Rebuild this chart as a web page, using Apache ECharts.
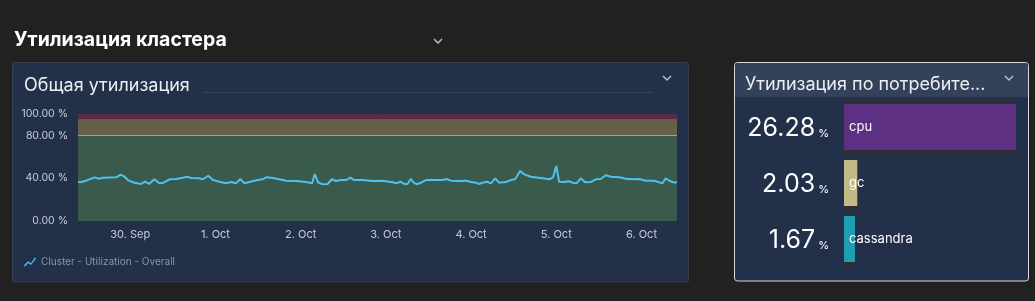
<!DOCTYPE html>
<html>
<head>
<meta charset="utf-8">
<script src="https://cdn.jsdelivr.net/npm/echarts@6/dist/echarts.min.js"></script>
<style>
  html, body { margin: 0; padding: 0; background: #212121; }
  #main { width: 1035px; height: 301px; }
</style>
</head>
<body>
<div id="main"></div>
<script>
// hours after 30 Sep 00:00 and cluster utilization (%)
const hours = [-14.7, -14.1, -12.4, -10.0, -8.8, -7.7, -3.9, -2.7, -1.6, -0.4, 1.2, 3.1, 4.2, 5.3, 6.8, 8.2,
  9.4, 11.1, 12.9, 14.8, 16.0, 17.2, 19.5, 20.5, 22.0, 23.3, 25.1, 27.0, 28.4, 29.8, 31.0, 32.2, 33.6, 35.9,
  37.3, 38.3, 40.2, 42.0, 43.9, 46.7, 49.5, 51.2, 52.0, 52.9, 54.2, 55.6, 56.8, 58.0, 59.4, 60.8, 62.0, 63.1,
  65.5, 68.3, 70.6, 72.0, 73.9, 75.0, 76.0, 77.2, 78.1, 79.0, 79.7, 80.7, 81.9, 83.3, 86.1, 88.0, 89.1, 90.3,
  92.7, 94.6, 96.0, 97.4, 98.3, 99.2, 100.5, 101.6, 102.8, 103.9, 105.8, 107.2, 108.4, 109.8, 111.0, 112.8,
  113.3, 116.1, 118.0, 119.1, 120.0, 120.8, 122.2, 123.6, 124.6, 125.7, 126.9, 128.1, 129.7, 131.1, 132.5,
  133.9, 135.4, 137.7, 139.6, 141.5, 143.3, 145.2, 147.5, 148.5, 149.9, 150.8, 152.0, 153.2, 154.0];
const utilization = [36.4, 36.2, 37.7, 40.8, 39.5, 40.5, 40.8, 43.3, 41.4, 37.7, 35.8, 34.6, 36.7, 34.6, 39.0, 35.2,
  35.8, 39.0, 39.3, 40.5, 41.4, 40.2, 39.9, 39.0, 42.3, 38.3, 36.7, 35.2, 36.4, 35.2, 39.3, 35.2, 36.4, 38.3,
  39.0, 40.8, 40.2, 39.0, 37.7, 37.4, 36.4, 35.2, 43.9, 36.2, 34.3, 34.6, 39.0, 37.4, 38.3, 38.3, 40.5, 38.3,
  38.3, 37.4, 37.7, 37.1, 36.2, 35.2, 36.7, 34.6, 34.6, 39.3, 36.4, 34.3, 35.8, 38.3, 38.3, 38.3, 39.3, 37.7,
  37.4, 37.7, 36.4, 35.8, 34.6, 35.8, 36.7, 35.2, 39.9, 35.8, 36.4, 38.3, 39.0, 46.7, 43.6, 41.4,
  40.8, 39.9, 39.0, 40.8, 51.4, 36.7, 36.4, 37.1, 35.8, 35.2, 39.9, 36.2, 36.4, 39.0, 39.3,
  42.7, 41.4, 40.8, 39.5, 39.0, 39.3, 37.7, 37.7, 36.7, 35.2, 39.9, 37.4, 35.8, 36.4];
const yTickLabels = [0, 40, 80, 100];
const thresholds = { warn: 80, crit: 95 };

// per-consumer utilization
const consumers = ['cpu', 'gc', 'cassandra'];
const shares = [26.28, 2.03, 1.67];
const consumerColors = ['#5e3083', '#c3ba88', '#1d9fb1'];

const months = ['Jan', 'Feb', 'Mar', 'Apr', 'May', 'Jun', 'Jul', 'Aug', 'Sep', 'Oct', 'Nov', 'Dec'];
const base = new Date(2023, 8, 30).getTime();
const H = 3600 * 1000;
const lineData = hours.map((h, i) => [base + h * H, utilization[i]]);

const FONT = 'Inter, "Noto Sans", sans-serif';
const chart = echarts.init(document.getElementById('main'));

const chevron = (x, y) => ({
  type: 'polyline',
  shape: { points: [[x - 4, y - 2], [x, y + 2], [x + 4, y - 2]] },
  style: { stroke: '#b9bec6', lineWidth: 1.5, fill: null },
  z: 1,
});

chart.setOption({
  backgroundColor: '#212121',
  textStyle: { fontFamily: FONT },
  animation: false,
  graphic: [
    { type: 'rect', shape: { x: 12.5, y: 62.5, width: 676, height: 219.5, r: 2 },
      style: { fill: '#22304a', stroke: '#373e4b', lineWidth: 1 }, z: 0 },
    { type: 'line', shape: { x1: 203, y1: 92.5, x2: 653, y2: 92.5 },
      style: { stroke: '#3a404c', lineWidth: 1 }, z: 1 },
    { type: 'rect', shape: { x: 734.5, y: 62.5, width: 294, height: 218.5, r: 3 },
      style: { fill: '#22304a', stroke: '#d4d7dc', lineWidth: 1 }, z: 0 },
    { type: 'rect', shape: { x: 735, y: 63, width: 293, height: 34, r: [3, 3, 0, 0] },
      style: { fill: '#33425a' }, z: 1 },
    chevron(438, 41),
    chevron(667, 78),
    chevron(1009, 78),
  ],
  title: [
    { text: 'Утилизация кластера', left: 14, top: 30, padding: 0,
      textStyle: { color: '#ffffff', fontSize: 19.5, fontWeight: 'bold', fontFamily: FONT } },
    { text: 'Общая утилизация', left: 24, top: 77, padding: 0,
      textStyle: { color: '#eceff2', fontSize: 18, fontWeight: 'normal', fontFamily: FONT } },
    { text: 'Утилизация по потребите...', left: 745, top: 76, padding: 0,
      textStyle: { color: '#eceff2', fontSize: 18, fontWeight: 'normal', fontFamily: FONT } },
  ],
  legend: {
    left: 24,
    top: 257,
    padding: 0,
    itemWidth: 12,
    itemHeight: 10,
    itemGap: 10,
    icon: 'path://M0,9L4,5L7,7L11,1L12,2.2L7,8.8L4,6.8L1,10.5Z',
    textStyle: { color: '#8b95a3', fontSize: 10 },
    data: ['Cluster - Utilization - Overall'],
  },
  grid: [
    { left: 78, right: 358, top: 114, bottom: 80 },
    { left: 844, right: 19, top: 99, bottom: 34 },
  ],
  xAxis: [
    {
      type: 'time',
      gridIndex: 0,
      min: base + hours[0] * H,
      max: base + hours[hours.length - 1] * H,
      minInterval: 24 * H,
      maxInterval: 24 * H,
      axisLine: { show: false },
      axisTick: { show: false },
      splitLine: { show: false },
      axisLabel: {
        color: '#c8ccd2',
        fontSize: 11,
        margin: 8,
        showMinLabel: false,
        showMaxLabel: false,
        formatter: (v) => {
          const d = new Date(v);
          return `${d.getDate()}. ${months[d.getMonth()]}`;
        },
      },
    },
    {
      type: 'value',
      gridIndex: 1,
      min: 0,
      max: 'dataMax',
      show: false,
    },
  ],
  yAxis: [
    {
      type: 'value',
      gridIndex: 0,
      min: 0,
      max: 100,
      interval: 20,
      axisLine: { show: false },
      axisTick: { show: false },
      splitLine: { show: false },
      axisLabel: {
        color: '#c8ccd2',
        fontSize: 10.5,
        margin: 10,
        formatter: (v) => (yTickLabels.includes(v) ? `${v.toFixed(2)} %` : ''),
      },
    },
    {
      type: 'category',
      gridIndex: 1,
      inverse: true,
      data: consumers,
      axisLine: { show: false },
      axisTick: { show: false },
      axisLabel: {
        margin: 15,
        formatter: (name, i) => `{v|${shares[i].toFixed(2)}}{p| %}`,
        rich: {
          v: { fontSize: 25, color: '#ffffff', fontFamily: FONT, lineHeight: 28, verticalAlign: 'bottom' },
          p: { fontSize: 11, color: '#ffffff', fontFamily: FONT, lineHeight: 28, verticalAlign: 'bottom', padding: [0, 0, 2, 0] },
        },
      },
    },
    {
      type: 'category',
      gridIndex: 1,
      inverse: true,
      data: consumers,
      show: false,
    },
  ],
  series: [
    {
      name: 'Cluster - Utilization - Overall',
      type: 'line',
      xAxisIndex: 0,
      yAxisIndex: 0,
      data: lineData,
      showSymbol: false,
      color: '#4fc1ee',
      lineStyle: { width: 2, color: '#4fc1ee' },
      markArea: {
        silent: true,
        data: [
          [{ yAxis: thresholds.crit, itemStyle: { color: '#5a2945' } }, { yAxis: 100 }],
          [{ yAxis: thresholds.warn, itemStyle: { color: '#656046' } }, { yAxis: thresholds.crit }],
          [{ yAxis: 0, itemStyle: { color: '#3a5a4b' } }, { yAxis: thresholds.warn }],
        ],
      },
      markLine: {
        silent: true,
        symbol: 'none',
        label: { show: false },
        data: [
          { yAxis: thresholds.crit, lineStyle: { color: '#a33a55', width: 1, type: 'solid' } },
          { yAxis: thresholds.warn, lineStyle: { color: '#b3aa45', width: 1, type: 'solid' } },
        ],
      },
    },
    {
      type: 'bar',
      xAxisIndex: 1,
      yAxisIndex: 2,
      barWidth: 56,
      silent: true,
      z: 1,
      itemStyle: { color: '#2c2f37' },
      data: shares.map((v, i) => (i === 0 ? v : '-')),
    },
    {
      type: 'bar',
      xAxisIndex: 1,
      yAxisIndex: 1,
      barWidth: 46,
      z: 2,
      data: shares.map((v, i) => ({ value: v, itemStyle: { color: consumerColors[i] } })),
      itemStyle: { shadowColor: '#2c2f37', shadowOffsetY: 5, shadowBlur: 0 },
      label: {
        show: true,
        position: 'insideLeft',
        distance: 5,
        formatter: '{b}',
        color: '#ffffff',
        fontSize: 13,
        fontFamily: FONT,
      },
    },
  ],
});
</script>
</body>
</html>
